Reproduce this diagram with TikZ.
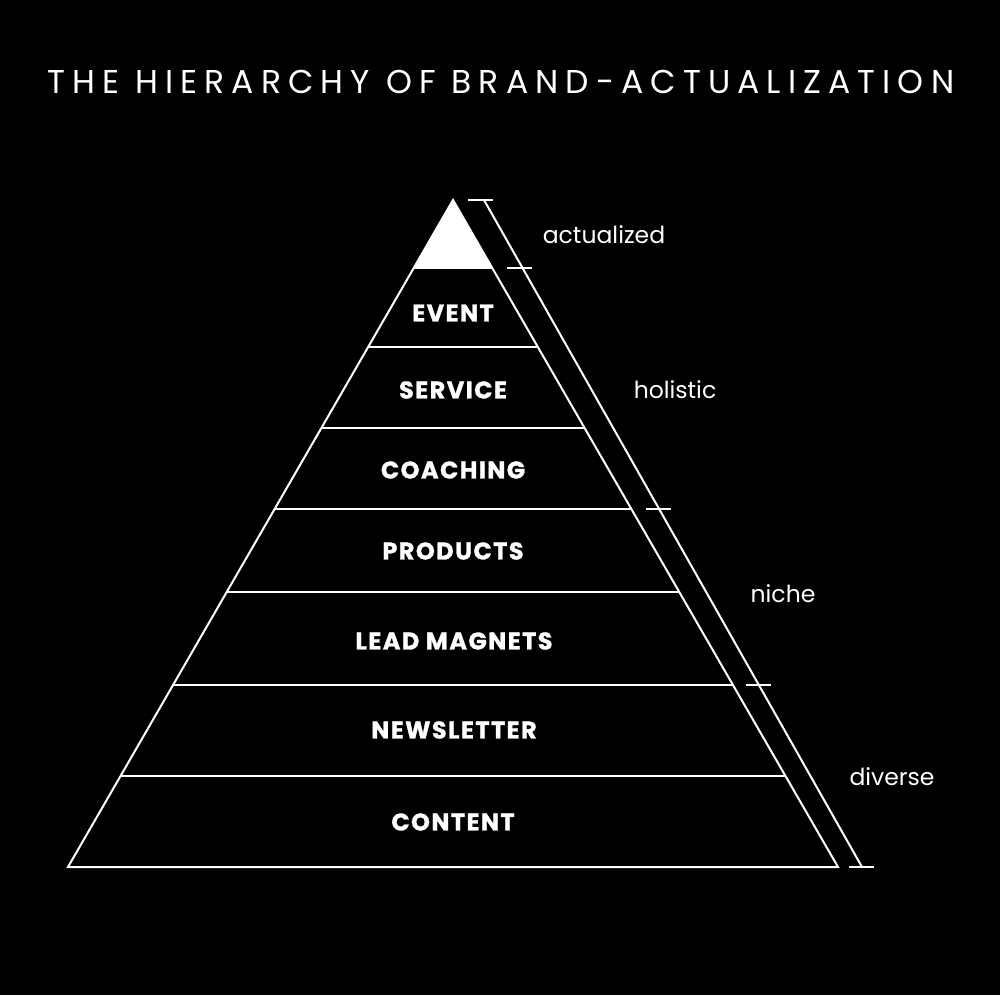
\documentclass[tikz,border=0pt]{standalone}
\usepackage{fontspec}
\setmainfont{Poppins}
\newfontfamily\titlefont[LetterSpace=21.5]{Poppins}
\newfontfamily\lvlfont[LetterSpace=6,BoldFeatures={FakeBold=1.2}]{Poppins}
\begin{document}
\begin{tikzpicture}[x=1pt,y=-1pt,
  wl/.style={draw=white,line width=2pt},
  lvl/.style={text=white,font=\lvlfont\bfseries\fontsize{24}{24}\selectfont,anchor=center},
  side/.style={text=white,font=\fontsize{23.5}{23.5}\selectfont,anchor=center},
  tick/.style={draw=white,line width=2pt}]
\useasboundingbox[fill=black] (0,0) rectangle (1000,995);
% title
\node[text=white,font=\titlefont\fontsize{33}{33}\selectfont] (title) at (501,82) {THE HIERARCHY OF BRAND-ACTUALIZATION};
% pyramid
\coordinate (apex) at (453,200);
\coordinate (bl) at (68,867);
\coordinate (br) at (838,867);
\begin{scope}
\clip (apex) -- (bl) -- (br) -- cycle;
\fill[white] (0,150) rectangle (1000,268);
\foreach \yy in {268,347,428,509,592,685,776}
  \draw[wl] (0,\yy) -- (1000,\yy);
\end{scope}
\draw[wl,line join=miter] (apex) -- (bl) -- (br) -- cycle;
% level labels
\node[lvl] (event) at (453,313) {EVENT};
\node[lvl] (service) at (453,390) {SERVICE};
\node[lvl] (coaching) at (453,470) {COACHING};
\node[lvl] (products) at (453,551) {PRODUCTS};
\node[lvl] (lead) at (454,641) {LEAD MAGNETS};
\node[lvl] (news) at (454,730) {NEWSLETTER};
\node[lvl] (content) at (453,822) {CONTENT};
% side scale
\coordinate (st) at (484,200);
\coordinate (sb) at (862,867);
\draw[wl] (st) -- (sb);
\draw[tick] (468,200) -- (493,200);
\draw[tick] (507,268) -- (532,268);
\draw[tick] (646,509) -- (671,509);
\draw[tick] (746,685) -- (771,685);
\draw[tick] (849,867) -- (874,867);
% side labels
\node[side] (actualized) at (604,235) {actualized};
\node[side] (holistic) at (675,390) {holistic};
\node[side] (niche) at (783,594) {niche};
\node[side] (diverse) at (892,777) {diverse};
\end{tikzpicture}
\end{document}
